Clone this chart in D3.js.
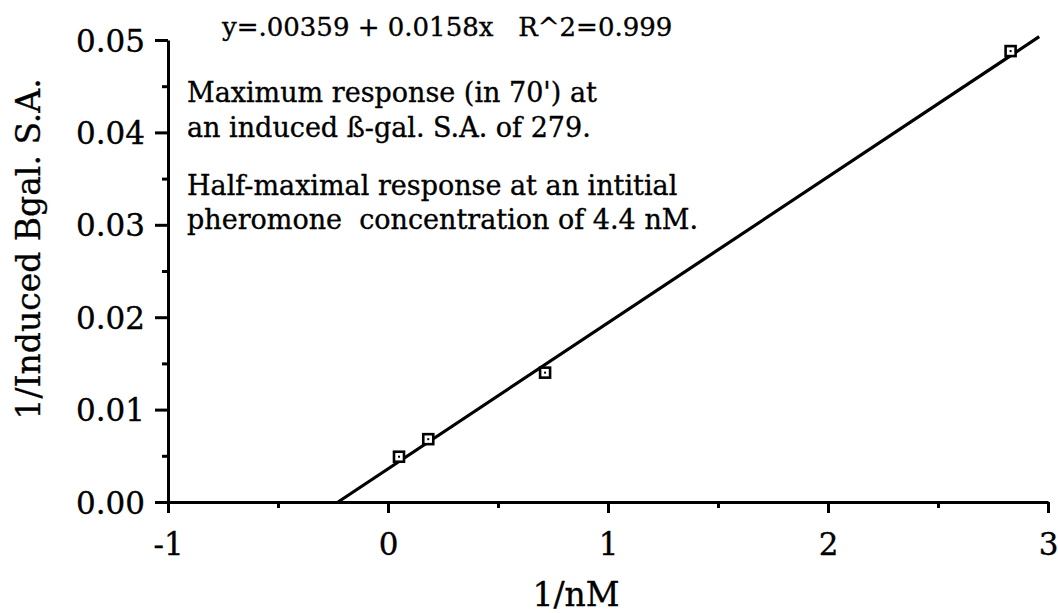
<!DOCTYPE html>
<html>
<head>
<meta charset="utf-8">
<script src="https://cdn.jsdelivr.net/npm/d3@7"></script>
<style>
  html, body { margin: 0; padding: 0; background: #fff; }
  svg { display: block; }
  text { font-family: "DejaVu Serif", "Liberation Serif", serif; fill: #000; stroke: #000; stroke-width: 0.35px; white-space: pre; }
</style>
</head>
<body>
<svg id="chart" width="1058" height="613"></svg>
<script>
// ---- data ----
const xValues = [0.05, 0.183, 0.714, 2.83];          // 1/nM
const yValues = [0.0049, 0.0068, 0.0140, 0.0488];     // 1/Induced Bgal. S.A.
const fitIntercept = 0.00359;
const fitSlope = 0.0158;
const fitXRange = [-0.227, 2.96];
const xTicks = [-1, 0, 1, 2, 3];
const xMinorTicks = [-0.5, 0.5, 1.5, 2.5];
const yTicks = [0, 0.01, 0.02, 0.03, 0.04, 0.05];
const yMinorTicks = [0.005, 0.015, 0.025, 0.035, 0.045];
const equationText = "y=.00359 + 0.0158x   R^2=0.999";
const noteLines1 = ["Maximum response (in 70') at", "an induced \u00DF-gal. S.A. of 279."];
const noteLines2 = ["Half-maximal response at an intitial", "pheromone  concentration of 4.4 nM."];
const xTitle = "1/nM";
const yTitle = "1/Induced Bgal. S.A.";

// ---- layout ----
const svg = d3.select("#chart");
const x = d3.scaleLinear().domain([-1, 3]).range([168, 1048]);
const y = d3.scaleLinear().domain([0, 0.05]).range([502, 40]);

// x axis
const gx = svg.append("g").attr("transform", `translate(0,${y(0)})`);
gx.call(d3.axisBottom(x).tickValues(xTicks).tickSize(11).tickSizeOuter(0)
  .tickPadding(20).tickFormat(d3.format("d")));
const gxm = svg.append("g").attr("transform", `translate(0,${y(0)})`);
gxm.call(d3.axisBottom(x).tickValues(xMinorTicks).tickSize(6).tickSizeOuter(0).tickFormat(""));
gxm.select(".domain").remove();
[gx, gxm].forEach(g => {
  g.selectAll(".domain").attr("stroke", "#000").attr("stroke-width", 3);
  g.selectAll(".tick line").attr("stroke", "#000").attr("stroke-width", 3);
});
gx.selectAll(".tick text").attr("font-size", 31).attr("font-family", "DejaVu Serif")
  .text(d => d < 0 ? "-" + Math.abs(d) : d);

// y axis
const gy = svg.append("g").attr("transform", `translate(${x(-1)},0)`);
gy.call(d3.axisLeft(y).tickValues(yTicks).tickSize(13).tickSizeOuter(0)
  .tickPadding(10).tickFormat(d3.format(".2f")));
const gym = svg.append("g").attr("transform", `translate(${x(-1)},0)`);
gym.call(d3.axisLeft(y).tickValues(yMinorTicks).tickSize(6).tickSizeOuter(0).tickFormat(""));
gym.select(".domain").remove();
[gy, gym].forEach(g => {
  g.selectAll(".domain").attr("stroke", "#000").attr("stroke-width", 3);
  g.selectAll(".tick line").attr("stroke", "#000").attr("stroke-width", 3);
});
gy.selectAll(".tick text").attr("font-size", 31).attr("font-family", "DejaVu Serif")
  .attr("dy", "0.36em");

// fit line
svg.append("line")
  .attr("x1", x(fitXRange[0])).attr("y1", y(fitIntercept + fitSlope * fitXRange[0]))
  .attr("x2", x(fitXRange[1])).attr("y2", y(fitIntercept + fitSlope * fitXRange[1]))
  .attr("stroke", "#000").attr("stroke-width", 3.2);

// points: open squares with a center dot
const pts = svg.append("g").selectAll("g").data(xValues.map((v, i) => [v, yValues[i]]))
  .join("g").attr("transform", d => `translate(${x(d[0])},${y(d[1])})`);
pts.append("rect").attr("x", -5).attr("y", -5).attr("width", 10).attr("height", 10)
  .attr("fill", "#fff").attr("stroke", "#000").attr("stroke-width", 2.6);
pts.append("rect").attr("x", -1).attr("y", -1).attr("width", 2).attr("height", 2).attr("fill", "#000");

// annotations
svg.append("text").attr("x", 222).attr("y", 36).attr("font-size", 26).text(equationText);
noteLines1.forEach((t, i) => svg.append("text").attr("x", 187).attr("y", 102 + i * 35)
  .attr("font-size", 27).text(t));
noteLines2.forEach((t, i) => svg.append("text").attr("x", 187).attr("y", 195 + i * 34)
  .attr("font-size", 27).text(t));

// axis titles
svg.append("text").attr("x", 576).attr("y", 606).attr("text-anchor", "middle")
  .attr("font-size", 33).text(xTitle);
svg.append("text").attr("transform", "translate(40,249) rotate(-90)")
  .attr("text-anchor", "middle").attr("font-size", 33).text(yTitle);
</script>
</body>
</html>
